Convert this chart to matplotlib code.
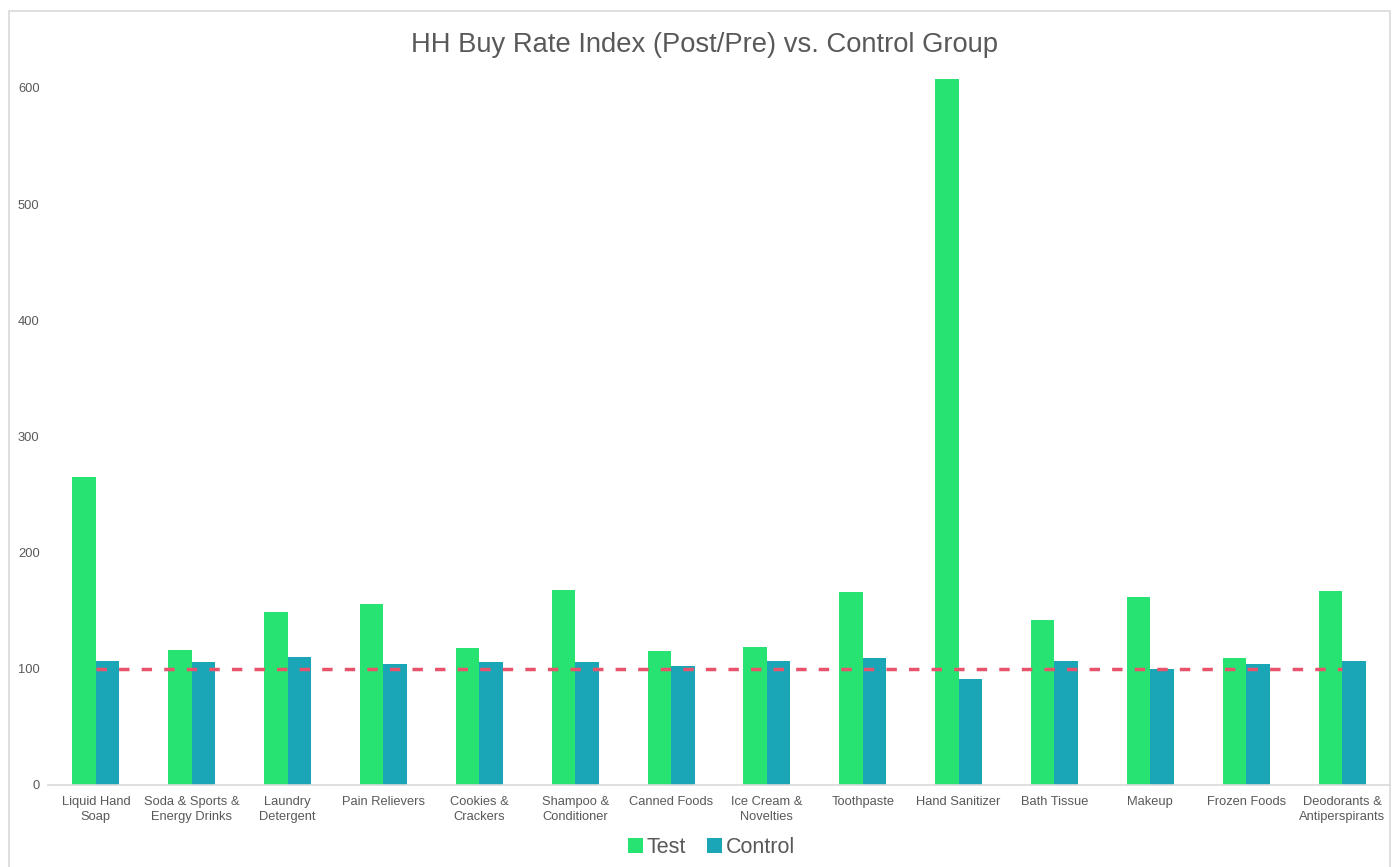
import matplotlib.pyplot as plt
import numpy as np
from matplotlib.patches import Rectangle

plt.rcParams['font.family'] = ['Liberation Sans', 'DejaVu Sans']

categories = ['Liquid Hand\nSoap', 'Soda & Sports &\nEnergy Drinks', 'Laundry\nDetergent',
              'Pain Relievers', 'Cookies &\nCrackers', 'Shampoo &\nConditioner',
              'Canned Foods', 'Ice Cream &\nNovelties', 'Toothpaste', 'Hand Sanitizer',
              'Bath Tissue', 'Makeup', 'Frozen Foods', 'Deodorants &\nAntiperspirants']
test = [265, 116, 149, 156, 118, 168, 115, 119, 166, 608, 142, 162, 109, 167]
control = [107, 106, 110, 104, 106, 106, 102, 107, 109, 91, 107, 100, 104, 107]
baseline = [100] * len(categories)

text_col = '#595959'
fig = plt.figure(figsize=(13.95, 8.67), dpi=100)
ax = fig.add_axes([0.0344, 0.0946, 0.9620, 0.82])

x = np.arange(len(categories))
w = 0.245
ax.bar(x - w / 2, test, w, color='#26E372', label='Test')
ax.bar(x + w / 2, control, w, color='#1AA6B7', label='Control')
ax.plot(x, baseline, color='#E8536B', lw=2.5, ls=(0, (3, 3.5)))

ax.set_xlim(-0.5, len(categories) - 0.5)
ax.set_ylim(0, 612)
ax.set_yticks(range(0, 601, 100))
ax.set_xticks(x)
ax.set_xticklabels(categories, fontsize=9.3, color=text_col, linespacing=1.3)
ax.tick_params(axis='y', labelsize=9.3, labelcolor=text_col, length=0, pad=6)
ax.tick_params(axis='x', length=0, pad=8)
for s in ['top', 'right', 'left']:
    ax.spines[s].set_visible(False)
ax.spines['bottom'].set_color('#D9D9D9')
ax.spines['bottom'].set_linewidth(1.2)

ax.set_title('HH Buy Rate Index (Post/Pre) vs. Control Group', fontsize=19.7,
             color=text_col, pad=16, x=0.489)

fig.legend(loc='lower center', bbox_to_anchor=(0.51, -0.012), ncol=2, frameon=False,
           fontsize=15.5, labelcolor=text_col, handlelength=0.7, handleheight=0.7,
           handletextpad=0.15, columnspacing=1.0)

# light frame around the chart
fig.patches.append(Rectangle((0.0065, -0.01), 0.99, 0.997, transform=fig.transFigure,
                             fill=False, edgecolor='#D9D9D9', lw=1.2))

fig.savefig('out.png', dpi=100)
